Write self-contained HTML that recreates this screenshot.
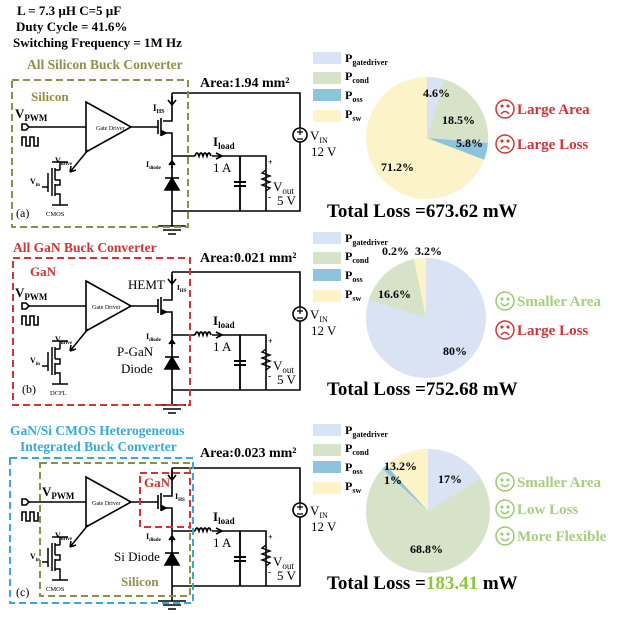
<!DOCTYPE html>
<html><head><meta charset="utf-8"><style>
html,body{margin:0;padding:0;background:#fff}
svg{display:block;font-family:"Liberation Serif",serif;font-weight:bold}
</style></head><body>
<svg width="640" height="635" viewBox="0 0 640 635" xmlns="http://www.w3.org/2000/svg">
<defs>
<g id="ckt" stroke="#000" stroke-width="1.6" fill="none">
  <path d="M172 93 H300 V211 H172 M172 93 V121 H163 M163 133 H172 V226"/>
  <path d="M172 156 H195 M212 156 H240 V211 M240 156 H266 V211"/>
  <path d="M195 156 q2 -6 4 0 q2 -6 4 0 q2 -6 4 0 q2 -6 4 0" stroke-width="1.8"/>
  <path d="M222 156 l-6 -3 M222 156 l-6 3" />
  <path d="M172 96 v8 M168 100 l4 5 l4 -5"/>
  <path d="M161 118 V136 M158 120 V134 M131 127 H158"/>
  <path d="M166 133 l-4 -2 l0 4 z" fill="#000"/>
  <path d="M22 127 H86"/>
  <path d="M86 102 L131 127 L86 152 Z" fill="#fff"/>
  <path d="M22 124 h4 l3 3 l-3 3 h-4 z" fill="#fff"/>
  <path d="M22 146 v-9 h4 v9 h4 v-9 h4 v9 h4 v-9"/>
  <path d="M172 162 v6 M169 165 l3 -4 l3 4" fill="#000"/>
  <path d="M165 178 H179"/>
  <path d="M165 190 L179 190 L172 178 Z" fill="#000"/>
  <path d="M234 182 h12 M234 186 h12" stroke-width="2"/>
  <path d="M240 182 V156 M240 186 V211"/>
  <path d="M266 170 l-4 3 l8 3 l-8 3 l8 3 l-8 3 l8 3 l-4 3" fill="none" stroke-width="1.4"/>
  <circle cx="300" cy="135" r="7" fill="#fff"/>
  <path d="M297 132 h6 M300 129 v6 M297 139 h6" stroke-width="1.2"/>
  <path d="M158 226 h28 M163 230 h18 M168 234 h8" stroke-width="1.4"/>
  <path d="M60 162 V170 M52 162 h16 M55 170 H60 M55 168 V180 M55 180 H60 V185 H55 M55 184 V196 M55 194 H60 V205 M52 205 h16 M52 168 V196 M48 173 V192 M42 187 H48" stroke-width="1.5"/>
  <path d="M88 150 L70 172 M70 172 l1 -6 M70 172 l6 -2" stroke-width="1.5"/>
</g>
<g id="pienums"></g>
</defs>

<!-- top text -->
<g font-size="13" fill="#000">
<text x="17" y="15">L = 7.3 µH C=5 µF</text>
<text x="16" y="31">Duty Cycle = 41.6%</text>
<text x="13" y="47">Switching Frequency = 1M Hz</text>
</g>
<text x="27" y="69" font-size="13.5" fill="#8e8f4a">All Silicon Buck Converter</text>
<text x="13" y="252" font-size="13.5" fill="#d03434">All GaN Buck Converter</text>
<text x="10" y="435" font-size="13.5" fill="#3aa8d4">GaN/Si CMOS Heterogeneous</text>
<text x="20" y="451" font-size="13.5" fill="#3aa8d4">Integrated Buck Converter</text>

<!-- circuits -->
<use href="#ckt"/>
<use href="#ckt" transform="translate(0,179)"/>
<use href="#ckt" transform="translate(0,375)"/>

<!-- common labels per circuit -->
<g id="lbl" fill="#000">
</g>
<g fill="#000">
  <g>
  <text x="200" y="87" font-size="14">Area:1.94 mm²</text>
  <text x="15" y="118" font-size="13">V<tspan font-size="9" dy="3">PWM</tspan></text>
  <text x="96" y="130" font-size="6" font-weight="normal">Gate Driver</text>
  <text x="153" y="111" font-size="9">I<tspan font-size="6" dy="2">HS</tspan></text>
  <text x="146" y="167" font-size="8">I<tspan font-size="5" dy="2">diode</tspan></text>
  <text x="213" y="146" font-size="13">I<tspan font-size="9" dy="3">load</tspan></text>
  <text x="213" y="172" font-size="13" font-weight="normal">1 A</text>
  <text x="268" y="165" font-size="8">+</text>
  <text x="273" y="191" font-size="13" font-weight="normal">V<tspan font-size="9" dy="3">out</tspan></text>
  <text x="268" y="200" font-size="9">-</text>
  <text x="277" y="205" font-size="13" font-weight="normal">5 V</text>
  <text x="310" y="140" font-size="13" font-weight="normal">V<tspan font-size="8" dy="3">IN</tspan></text>
  <text x="311" y="156" font-size="13" font-weight="normal">12 V</text>
  <text x="55" y="163" font-size="8">V<tspan font-size="5" dy="2">drive</tspan></text>
  <text x="30" y="184" font-size="8">V<tspan font-size="5" dy="2">in</tspan></text>
  <text x="16" y="217" font-size="12" font-weight="normal">(a)</text>
  <text x="46" y="216" font-size="6.5" font-weight="normal">CMOS</text>
  <text x="31" y="101" font-size="13" fill="#8e8f4a">Silicon</text>
  </g>
  <g transform="translate(0,179)">
  <text x="200" y="83" font-size="14">Area:0.021 mm²</text>
  <text x="15" y="118" font-size="13">V<tspan font-size="9" dy="3">PWM</tspan></text>
  <text x="92" y="130" font-size="6" font-weight="normal">Gate Driver</text>
  <text x="177" y="111" font-size="7">I<tspan font-size="5" dy="2">HS</tspan></text>
  <text x="128" y="110" font-size="13" font-weight="normal">HEMT</text>
  <text x="146" y="160" font-size="8">I<tspan font-size="5" dy="2">diode</tspan></text>
  <text x="117" y="177" font-size="13" font-weight="normal">P-GaN</text>
  <text x="121" y="194" font-size="13" font-weight="normal">Diode</text>
  <text x="213" y="146" font-size="13">I<tspan font-size="9" dy="3">load</tspan></text>
  <text x="213" y="172" font-size="13" font-weight="normal">1 A</text>
  <text x="268" y="165" font-size="8">+</text>
  <text x="273" y="191" font-size="13" font-weight="normal">V<tspan font-size="9" dy="3">out</tspan></text>
  <text x="268" y="200" font-size="9">-</text>
  <text x="277" y="205" font-size="13" font-weight="normal">5 V</text>
  <text x="310" y="140" font-size="13" font-weight="normal">V<tspan font-size="8" dy="3">IN</tspan></text>
  <text x="311" y="156" font-size="13" font-weight="normal">12 V</text>
  <text x="55" y="163" font-size="8">V<tspan font-size="5" dy="2">drive</tspan></text>
  <text x="30" y="184" font-size="8">V<tspan font-size="5" dy="2">in</tspan></text>
  <text x="22" y="214" font-size="12" font-weight="normal">(b)</text>
  <text x="50" y="216" font-size="6.5" font-weight="normal">DCFL</text>
  <text x="30" y="97" font-size="13" fill="#d03434">GaN</text>
  </g>
  <g transform="translate(0,375)">
  <text x="200" y="82" font-size="14">Area:0.023 mm²</text>
  <text x="42" y="121" font-size="13">V<tspan font-size="9" dy="3">PWM</tspan></text>
  <text x="92" y="130" font-size="6" font-weight="normal">Gate Driver</text>
  <text x="175" y="124" font-size="8">I<tspan font-size="5" dy="2">HS</tspan></text>
  <text x="146" y="164" font-size="8">I<tspan font-size="5" dy="2">diode</tspan></text>
  <text x="114" y="186" font-size="13" font-weight="normal">Si Diode</text>
  <text x="213" y="146" font-size="13">I<tspan font-size="9" dy="3">load</tspan></text>
  <text x="213" y="172" font-size="13" font-weight="normal">1 A</text>
  <text x="268" y="165" font-size="8">+</text>
  <text x="273" y="191" font-size="13" font-weight="normal">V<tspan font-size="9" dy="3">out</tspan></text>
  <text x="268" y="200" font-size="9">-</text>
  <text x="277" y="205" font-size="13" font-weight="normal">5 V</text>
  <text x="310" y="140" font-size="13" font-weight="normal">V<tspan font-size="8" dy="3">IN</tspan></text>
  <text x="311" y="156" font-size="13" font-weight="normal">12 V</text>
  <text x="55" y="163" font-size="8">V<tspan font-size="5" dy="2">drive</tspan></text>
  <text x="30" y="184" font-size="8">V<tspan font-size="5" dy="2">in</tspan></text>
  <text x="16" y="221" font-size="12" font-weight="normal">(c)</text>
  <text x="46" y="216" font-size="6.5" font-weight="normal">CMOS</text>
  <text x="121" y="211" font-size="13" fill="#8e8f4a">Silicon</text>
  <text x="144" y="112" font-size="13" fill="#d03434">GaN</text>
  </g>
</g>

<!-- dashed boxes -->
<g fill="none" stroke-width="2" stroke-dasharray="7,4">
<rect x="12" y="80" width="176" height="147" stroke="#8e8f4a"/>
<rect x="13" y="258" width="177" height="147" stroke="#d03434"/>
<rect x="10" y="458" width="183" height="145" stroke="#3aa8d4"/>
<rect x="40" y="463" width="150" height="133" stroke="#8e8f4a"/>
<rect x="140" y="473" width="50" height="54" stroke="#d03434"/>
</g>

<!-- legends -->
<g>
 <g id="leg">
  <rect x="313" y="52" width="28" height="12" fill="#dae3f3"/>
  <rect x="313" y="72" width="28" height="12" fill="#d6e3c8"/>
  <rect x="313" y="89" width="28" height="12" fill="#8ec4db"/>
  <rect x="313" y="110" width="28" height="12" fill="#fdf3c8"/>
  <g font-size="12" fill="#000">
  <text x="345" y="62">P<tspan font-size="8" dy="3">gatedriver</tspan></text>
  <text x="345" y="80">P<tspan font-size="8" dy="3">cond</tspan></text>
  <text x="345" y="99">P<tspan font-size="8" dy="3">oss</tspan></text>
  <text x="345" y="118">P<tspan font-size="8" dy="3">sw</tspan></text>
  </g>
 </g>
 <use href="#leg" transform="translate(0,180)"/>
 <use href="#leg" transform="translate(0,372)"/>
</g>

<!-- pies -->
<g stroke="none">
 <!-- pie a center 427,138 r61 ; 4.6,18.5,5.8,71.2 -->
 <circle cx="427" cy="138" r="61" fill="#fdf3c8"/>
 <path d="M427 138 L427 77 A61 61 0 0 1 444.4 79.5 Z" fill="#dae3f3"/>
 <path d="M427 138 L444.4 79.5 A61 61 0 0 1 487.9 142.9 Z" fill="#d6e3c8"/>
 <path d="M427 138 L487.9 142.9 A61 61 0 0 1 484.2 159.8 Z" fill="#8ec4db"/>
 <!-- pie b center 426,318 r60 ; 80,16.6,0.2,3.2 -->
 <circle cx="426" cy="318" r="60" fill="#dae3f3"/>
 <path d="M426 318 L368.9 299.5 A60 60 0 0 1 414 259.2 Z" fill="#d6e3c8"/>
 <path d="M426 318 L414 259.2 A60 60 0 0 1 426 258 Z" fill="#fdf3c8"/>
 <!-- pie c center 428,511 r62 ; 17,68.8,1,13.2 -->
 <circle cx="428" cy="511" r="62" fill="#d6e3c8"/>
 <path d="M428 511 L428 449 A62 62 0 0 1 480.6 478.2 Z" fill="#dae3f3"/>
 <path d="M428 511 L382.5 468.9 A62 62 0 0 1 386.2 465.2 Z" fill="#8ec4db"/>
 <path d="M428 511 L386.2 465.2 A62 62 0 0 1 428 449 Z" fill="#fdf3c8"/>
</g>
<g font-size="12" fill="#000">
 <text x="423" y="97">4.6%</text>
 <text x="442" y="124">18.5%</text>
 <text x="456" y="147">5.8%</text>
 <text x="381" y="171">71.2%</text>
 <text x="382" y="255">0.2%</text>
 <text x="415" y="255">3.2%</text>
 <text x="378" y="298">16.6%</text>
 <text x="443" y="355">80%</text>
 <text x="384" y="470">13.2%</text>
 <text x="384" y="484">1%</text>
 <text x="438" y="483">17%</text>
 <text x="410" y="553">68.8%</text>
</g>

<!-- totals -->
<g font-size="19" fill="#000">
<text x="327" y="217">Total Loss =673.62 mW</text>
<text x="327" y="395">Total Loss =752.68 mW</text>
<text x="327" y="589">Total Loss =<tspan fill="#8dc63f">183.41</tspan> mW</text>
</g>

<!-- faces -->
<defs>
<g id="sad" fill="none" stroke="#d03434" stroke-width="1.5">
 <circle cx="0" cy="0" r="9"/><circle cx="-3" cy="-3" r="0.8" fill="#d03434"/><circle cx="3" cy="-3" r="0.8" fill="#d03434"/>
 <path d="M-4 5 q4 -5 8 0"/>
</g>
<g id="happy" fill="none" stroke="#9acb6b" stroke-width="1.5">
 <circle cx="0" cy="0" r="9"/><circle cx="-3" cy="-2" r="0.8" fill="#9acb6b"/><circle cx="3" cy="-2" r="0.8" fill="#9acb6b"/>
 <path d="M-4 2 q4 5 8 0"/>
</g>
</defs>
<use href="#sad" x="505" y="109"/>
<use href="#sad" x="505" y="144"/>
<use href="#happy" x="505" y="301"/>
<use href="#sad" x="505" y="330"/>
<use href="#happy" x="505" y="482"/>
<use href="#happy" x="505" y="509"/>
<use href="#happy" x="505" y="536"/>
<g font-size="15">
<text x="517" y="114" fill="#d03434">Large Area</text>
<text x="517" y="149" fill="#d03434">Large Loss</text>
<text x="517" y="306" fill="#a6cf80">Smaller Area</text>
<text x="517" y="335" fill="#d03434">Large Loss</text>
<text x="517" y="487" fill="#a6cf80">Smaller Area</text>
<text x="517" y="514" fill="#a6cf80">Low Loss</text>
<text x="517" y="541" fill="#a6cf80">More Flexible</text>
</g>
</svg>
</body></html>
